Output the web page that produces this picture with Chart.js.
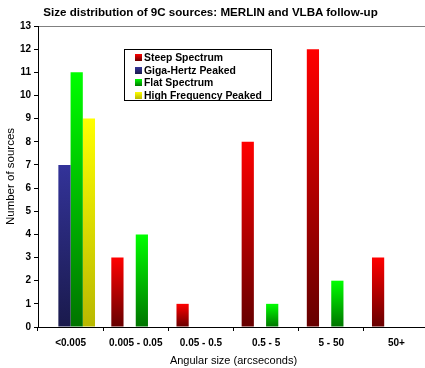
<!DOCTYPE html>
<html>
<head>
<meta charset="utf-8">
<script src="https://cdn.jsdelivr.net/npm/chart.js@4.4.1/dist/chart.umd.min.js"></script>
<style>
  html, body { margin: 0; padding: 0; background: #fff; overflow: hidden; }
  #wrap { position: relative; width: 430px; height: 368px; }
  #chart { position: absolute; left: 0; top: 0; }
  #title {
    position: absolute; left: 0; top: 5px; width: 421px; text-align: center;
    font: bold 11.6px "Liberation Sans", Arial, sans-serif; line-height: 13px; color: #000;
  }
  #legend {
    position: absolute; left: 124px; top: 49px; width: 146px; height: 50px;
    border: 1px solid #000; background: #fff; box-sizing: content-box;
  }
  .row {
    position: absolute; left: 10px; height: 12.5px; line-height: 12.5px;
    font: bold 10.4px "Liberation Sans", Arial, sans-serif; color: #000; white-space: nowrap;
    display: flex; align-items: center;
  }
  .sw { width: 7px; height: 7px; margin-right: 2px; }
</style>
</head>
<body>
<div id="wrap">
  <canvas id="chart" width="430" height="368"></canvas>
  <div id="title">Size distribution of 9C sources: MERLIN and VLBA follow-up</div>
  <div id="legend"></div>
</div>
<script>
// Angular size bins (arcseconds)
const categories = ['<0.005', '0.005 - 0.05', '0.05 - 0.5', '0.5 - 5', '5 - 50', '50+'];

// Number of sources per bin, by spectral class
const steepSpectrum   = [0, 3, 1, 8, 12, 3];
const gigaHertzPeaked = [7, 0, 0, 0, 0, 0];
const flatSpectrum    = [11, 4, 0, 1, 2, 0];
const highFreqPeaked  = [9, 0, 0, 0, 0, 0];

const seriesNames = ['Steep Spectrum', 'Giga-Hertz Peaked', 'Flat Spectrum', 'High Frequency Peaked'];
const yTicks = [0, 1, 2, 3, 4, 5, 6, 7, 8, 9, 10, 11, 12, 13];

// light (top) and dark (bottom) shade of each series
const shades = [
  ['#ff0000', '#660000'],
  ['#333399', '#1a1a4c'],
  ['#00ff00', '#007400'],
  ['#ffff00', '#b8b800']
];

// vertical gradient spanning each individual bar
function barFill(light, dark) {
  return (context) => {
    const chart = context.chart;
    if (!chart.chartArea) return light;
    const v = context.raw;
    if (!v) return light;
    const y = chart.scales.y;
    const yTop = y.getPixelForValue(v);
    const yBase = y.getPixelForValue(0);
    const g = chart.ctx.createLinearGradient(0, yTop, 0, yBase);
    g.addColorStop(0, light);
    g.addColorStop(1, dark);
    return g;
  };
}

const seriesData = [steepSpectrum, gigaHertzPeaked, flatSpectrum, highFreqPeaked];
const datasets = seriesData.map((d, i) => ({
  label: seriesNames[i],
  data: d,
  backgroundColor: barFill(shades[i][0], shades[i][1]),
  borderWidth: 0,
  barPercentage: 1,
  categoryPercentage: 0.75
}));

const FONT = '"Liberation Sans", Arial, sans-serif';

new Chart(document.getElementById('chart'), {
  type: 'bar',
  data: { labels: categories, datasets },
  options: {
    responsive: false,
    devicePixelRatio: 1,
    animation: false,
    layout: { padding: { top: 26, right: 1, bottom: 0, left: 0 } },
    plugins: {
      legend: { display: false },
      title: { display: false },
      tooltip: { enabled: false }
    },
    scales: {
      x: {
        afterFit: (s) => { s.height = 41; },
        grid: { drawOnChartArea: false, offset: true, color: '#000', tickLength: 4 },
        border: { color: '#000', width: 1 },
        ticks: { color: '#000', padding: 6, maxRotation: 0, autoSkip: false,
                 font: { family: FONT, size: 10, weight: 'bold' } },
        title: { display: true, text: 'Angular size (arcseconds)', color: '#000',
                 padding: { top: 0, bottom: 0.4 },
                 font: { family: FONT, size: 11 } }
      },
      y: {
        min: 0, max: 13,
        afterFit: (s) => { s.width = 38; },
        afterBuildTicks: (s) => { s.ticks = yTicks.map(v => ({ value: v })); },
        grid: {
          color: (c) => (c.tick && c.tick.value === 13 ? '#808080' : 'rgba(0,0,0,0)'),
          tickColor: '#000', tickLength: 4
        },
        border: { color: '#000', width: 1 },
        ticks: { color: '#000', padding: 3,
                 font: { family: FONT, size: 10, weight: 'bold' } },
        title: { display: true, text: 'Number of sources', color: '#000',
                 padding: { top: 4, bottom: 0 },
                 font: { family: FONT, size: 11.5 } }
      }
    }
  }
});

// legend box
const legend = document.getElementById('legend');
seriesNames.forEach((name, i) => {
  const row = document.createElement('div');
  row.className = 'row';
  row.style.top = (1.7 + 12.5 * i) + 'px';
  const sw = document.createElement('span');
  sw.className = 'sw';
  sw.style.background = 'linear-gradient(' + shades[i][0] + ',' + shades[i][1] + ')';
  const tx = document.createElement('span');
  tx.textContent = name;
  row.appendChild(sw);
  row.appendChild(tx);
  legend.appendChild(row);
});
</script>
</body>
</html>
